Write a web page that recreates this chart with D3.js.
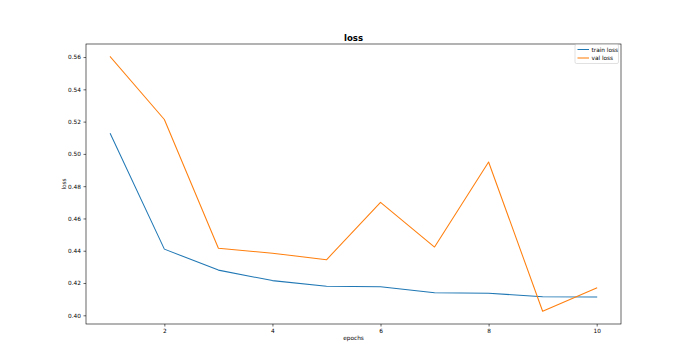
<!DOCTYPE html>
<html>
<head>
<meta charset="utf-8">
<script src="https://cdn.jsdelivr.net/npm/d3@7"></script>
<style>
  body { margin: 0; background: #fff; }
  svg text { font-family: "DejaVu Sans", sans-serif; fill: #000; }
</style>
</head>
<body>
<svg id="chart" width="690" height="364"></svg>
<script>
// training history
var epochs = [1, 2, 3, 4, 5, 6, 7, 8, 9, 10];
var trainLoss = [0.5125, 0.441, 0.428, 0.4215, 0.418, 0.4177, 0.414, 0.4137, 0.4115, 0.4113];
var valLoss = [0.5602, 0.5213, 0.4415, 0.4385, 0.4344, 0.4700, 0.4423, 0.4950, 0.4025, 0.4170];
var xTicks = [2, 4, 6, 8, 10];
var yTicks = [0.40, 0.42, 0.44, 0.46, 0.48, 0.50, 0.52, 0.54, 0.56];
var seriesNames = ["train loss", "val loss"];
var seriesColors = ["#1f77b4", "#ff7f0e"];

(function () {
  var svg = d3.select("#chart");
  var m = { left: 86, right: 621, top: 44, bottom: 324 };
  var fs = "5.8px";

  // matplotlib-style 5% margins
  var allY = trainLoss.concat(valLoss);
  var yMin = d3.min(allY), yMax = d3.max(allY), yPad = (yMax - yMin) * 0.05;
  var xPad = (d3.max(epochs) - d3.min(epochs)) * 0.05;

  var x = d3.scaleLinear().domain([d3.min(epochs) - xPad, d3.max(epochs) + xPad]).range([m.left, m.right]);
  var y = d3.scaleLinear().domain([yMin - yPad, yMax + yPad]).range([m.bottom, m.top]);

  var xAxis = svg.append("g").attr("transform", "translate(0," + m.bottom + ")")
    .call(d3.axisBottom(x).tickValues(xTicks).tickFormat(d3.format("d")).tickSize(2.5).tickPadding(2.5));
  var yAxis = svg.append("g").attr("transform", "translate(" + m.left + ",0)")
    .call(d3.axisLeft(y).tickValues(yTicks).tickFormat(d3.format(".2f")).tickSize(2.5).tickPadding(2.5));
  [xAxis, yAxis].forEach(function (a) {
    a.select(".domain").remove();
    a.selectAll("line").attr("stroke", "#000").attr("stroke-width", 0.6);
    a.selectAll("text").style("font-size", fs).style("font-family", "DejaVu Sans");
  });

  // frame
  svg.append("rect")
    .attr("x", m.left).attr("y", m.top)
    .attr("width", m.right - m.left).attr("height", m.bottom - m.top)
    .attr("fill", "none").attr("stroke", "#000").attr("stroke-width", 0.6);

  var line = d3.line().x(function (d, i) { return x(epochs[i]); }).y(function (d) { return y(d); });
  [trainLoss, valLoss].forEach(function (s, i) {
    svg.append("path").datum(s).attr("d", line)
      .attr("fill", "none").attr("stroke", seriesColors[i]).attr("stroke-width", 1.05)
      .attr("stroke-linejoin", "round").attr("stroke-linecap", "square");
  });

  svg.append("text").attr("x", (m.left + m.right) / 2).attr("y", 41)
    .attr("text-anchor", "middle").style("font-size", "8.6px").style("font-weight", "bold").text("loss");
  svg.append("text").attr("x", (m.left + m.right) / 2).attr("y", 340)
    .attr("text-anchor", "middle").style("font-size", fs).text("epochs");
  svg.append("text").attr("transform", "translate(66," + (m.top + m.bottom) / 2 + ") rotate(-90)")
    .attr("text-anchor", "middle").style("font-size", fs).text("loss");

  // legend
  var lg = svg.append("g").attr("transform", "translate(575,44.5)");
  lg.append("rect").attr("x", 0).attr("y", 0).attr("width", 43.5).attr("height", 19).attr("rx", 1.5)
    .attr("fill", "#fff").attr("fill-opacity", 0.8).attr("stroke", "#ccc").attr("stroke-width", 0.6);
  seriesNames.forEach(function (n, i) {
    var yy = 5 + i * 8.5;
    lg.append("line").attr("x1", 2.5).attr("x2", 14).attr("y1", yy).attr("y2", yy)
      .attr("stroke", seriesColors[i]).attr("stroke-width", 1.05);
    lg.append("text").attr("x", 16.5).attr("y", yy + 2.1).style("font-size", fs).text(n);
  });
})();
</script>
</body>
</html>
